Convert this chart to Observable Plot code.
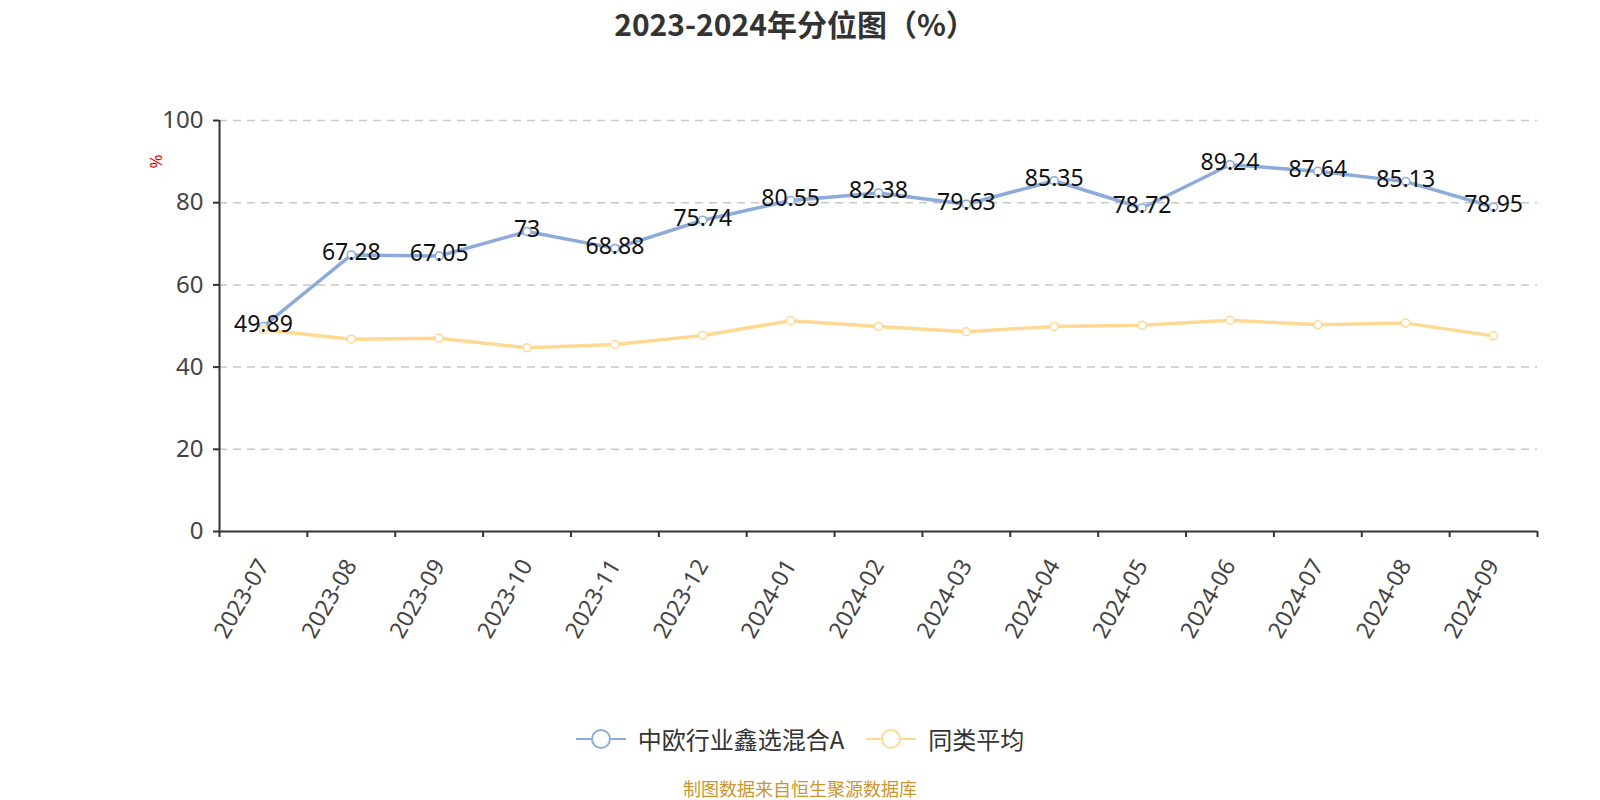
<!DOCTYPE html>
<html>
<head>
<meta charset="utf-8">
<script src="https://cdn.jsdelivr.net/npm/d3@7"></script>
<script src="https://cdn.jsdelivr.net/npm/@observablehq/plot@0.6"></script>
<style>
  html, body { margin: 0; padding: 0; background: #fff; }
  #wrap { position: relative; width: 1600px; height: 800px; overflow: hidden; font-family: "Noto Sans", "Noto Sans CJK SC", sans-serif; }
  #title { position: absolute; top: 2px; left: 0; width: 1590px; text-align: center; font-family: "Noto Sans CJK SC", sans-serif; font-weight: bold; font-size: 30px; color: #333; line-height: 42px; }
  #chart { position: absolute; top: 0; left: 0; }
  #ylab { position: absolute; left: 148px; top: 150px; color: #e00; font-size: 17px; transform: rotate(-90deg); transform-origin: center; }
  #legend { position: absolute; top: 721px; left: 0; width: 1600px; display: flex; justify-content: center; align-items: center; font-family: "Noto Sans CJK SC", sans-serif; font-size: 24px; color: #333; }
  .item { display: flex; align-items: center; margin: 0 11px; }
  .item svg { margin-right: 12px; }
  #caption { position: absolute; top: 775px; left: 0; width: 1600px; text-align: center; font-family: "Noto Sans CJK SC", sans-serif; font-size: 18px; color: #c9962f; }
</style>
</head>
<body>
<div id="wrap">
  <div id="chart"></div>
  <div id="title">2023-2024年分位图（%）</div>
  <div id="ylab">%</div>
  <div id="legend"></div>
  <div id="caption">制图数据来自恒生聚源数据库</div>
</div>
<script>
const months = ["2023-07","2023-08","2023-09","2023-10","2023-11","2023-12","2024-01","2024-02","2024-03","2024-04","2024-05","2024-06","2024-07","2024-08","2024-09"];
const fundValues = [49.89, 67.28, 67.05, 73, 68.88, 75.74, 80.55, 82.38, 79.63, 85.35, 78.72, 89.24, 87.64, 85.13, 78.95];
const avgValues = [49.1, 46.8, 47.0, 44.7, 45.5, 47.7, 51.3, 49.9, 48.6, 49.9, 50.2, 51.4, 50.3, 50.7, 47.6];
const yTicks = [0, 20, 40, 60, 80, 100];
const seriesNames = ["中欧行业鑫选混合A", "同类平均"];
const seriesColors = ["#8dabda", "#ffd993"];

const rows = months.map((m, i) => ({ pos: i + 0.5, month: m, fund: fundValues[i], avg: avgValues[i] }));

const chart = Plot.plot({
  width: 1600,
  height: 680,
  marginTop: 120,
  marginLeft: 219,
  marginRight: 63,
  marginBottom: 149,
  x: { type: "linear", domain: [0, months.length] },
  y: { domain: [0, 100] },
  style: { fontFamily: "'Noto Sans', 'Noto Sans CJK SC', sans-serif", fontSize: "23px", color: "#444", background: "transparent" },
  marks: [
    Plot.gridY(yTicks.filter(d => d > 0), { stroke: "#c8c8c8", strokeOpacity: 1, strokeDasharray: "8,6", strokeWidth: 1.5 }),
    Plot.axisY({ ticks: yTicks, tickSize: 6, tickPadding: 10, fontSize: 24, label: null, stroke: "#333", strokeWidth: 2 }),
    Plot.ruleX([0], { stroke: "#333", strokeWidth: 2 }),
    Plot.ruleY([0], { stroke: "#333", strokeWidth: 2 }),
    Plot.axisX({ ticks: d3.range(months.length + 1), tickSize: 6, tickFormat: () => "", label: null, stroke: "#333", strokeWidth: 2 }),
    Plot.axisX({ ticks: rows.map(d => d.pos), tickSize: 0, tickPadding: 30, tickFormat: d => months[Math.floor(d)], tickRotate: -60, textAnchor: "end", fontSize: 23, label: null }),
    Plot.line(rows, { x: "pos", y: "fund", stroke: seriesColors[0], strokeWidth: 3.5 }),
    Plot.line(rows, { x: "pos", y: "avg", stroke: seriesColors[1], strokeWidth: 3.5 }),
    Plot.dot(rows, { x: "pos", y: "fund", r: 4, fill: "white", stroke: seriesColors[0], strokeWidth: 1.5 }),
    Plot.dot(rows, { x: "pos", y: "avg", r: 4, fill: "white", stroke: seriesColors[1], strokeWidth: 1.5 }),
    Plot.text(rows, { x: "pos", y: "fund", text: d => String(d.fund), fontSize: 23, fill: "#111", dy: -2 })
  ]
});
document.getElementById("chart").appendChild(chart);

const legend = document.getElementById("legend");
seriesNames.forEach((name, i) => {
  const item = document.createElement("div");
  item.className = "item";
  item.innerHTML = `<svg width="50" height="24"><line x1="0" y1="12" x2="50" y2="12" stroke="${seriesColors[i]}" stroke-width="2"/><circle cx="25" cy="12" r="9" fill="white" stroke="${seriesColors[i]}" stroke-width="2"/></svg><span>${name}</span>`;
  legend.appendChild(item);
});
</script>
</body>
</html>
